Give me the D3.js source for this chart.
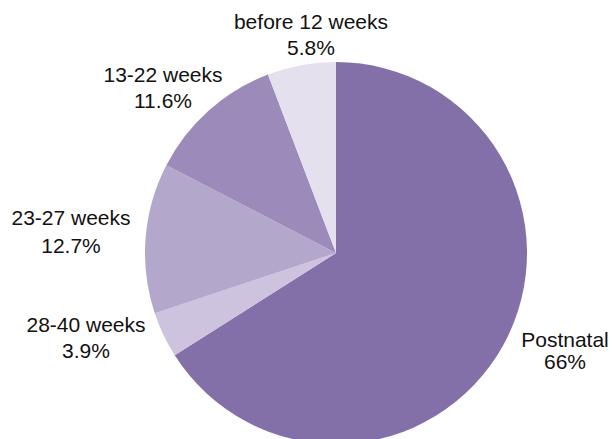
<!DOCTYPE html>
<html>
<head>
<meta charset="utf-8">
<script src="https://cdn.jsdelivr.net/npm/d3@7"></script>
<style>
  html, body { margin: 0; padding: 0; background: #fff; }
  svg { display: block; }
  text { font-family: "Liberation Sans", Arial, sans-serif; font-size: 21px; fill: #111; }
</style>
</head>
<body>
<div id="chart"></div>
<script>
// DATA
const categories = ['Postnatal', '28-40 weeks', '23-27 weeks', '13-22 weeks', 'before 12 weeks'];
const shares = [66, 3.9, 12.7, 11.6, 5.8];
const shareLabels = ['66%', '3.9%', '12.7%', '11.6%', '5.8%'];
const sliceColors = ['#8470a8', '#cdc3df', '#b3a8cc', '#9c8aba', '#e4e0ee'];

// label anchors (x centre, first baseline, second baseline)
const labelPos = [[565, 347, 369], [86, 332, 358], [71, 225, 253], [163, 82, 108], [311, 29, 55]];

const width = 612;
const height = 439;
const cx = 336;
const cy = 253;
const radius = 191;

const svg = d3.select('#chart').append('svg')
  .attr('width', width)
  .attr('height', height);

const data = categories.map((c, i) => ({ cat: c, value: shares[i], label: shareLabels[i], i: i }));

const pie = d3.pie()
  .value(d => d.value)
  .sort(null);

const arc = d3.arc()
  .innerRadius(0)
  .outerRadius(radius);

const g = svg.append('g')
  .attr('transform', `translate(${cx}, ${cy})`);

g.selectAll('path')
  .data(pie(data))
  .enter()
  .append('path')
  .attr('d', arc)
  .style('fill', d => sliceColors[d.data.i]);

// LABELS
const labels = svg.selectAll('g.lbl')
  .data(data)
  .enter()
  .append('g')
  .attr('class', 'lbl');

labels.append('text')
  .attr('x', d => labelPos[d.i][0])
  .attr('y', d => labelPos[d.i][1])
  .style('text-anchor', 'middle')
  .text(d => d.cat);

labels.append('text')
  .attr('x', d => labelPos[d.i][0])
  .attr('y', d => labelPos[d.i][2])
  .style('text-anchor', 'middle')
  .text(d => d.label);
</script>
</body>
</html>
